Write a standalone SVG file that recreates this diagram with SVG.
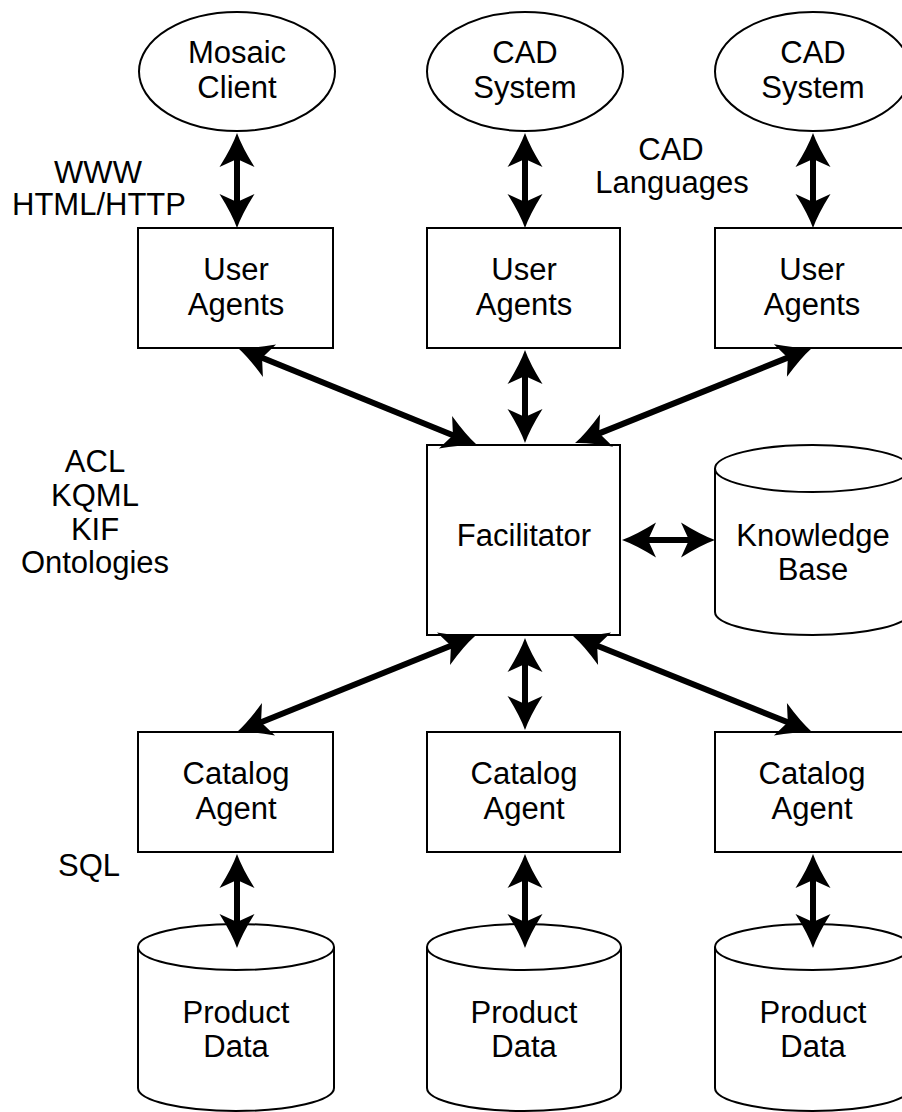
<svg xmlns="http://www.w3.org/2000/svg" width="902" height="1112" viewBox="0 0 902 1112">
<style>
.shape{fill:#fff;stroke:#000;stroke-width:2}
.line{fill:none;stroke:#000;stroke-width:2}
.conn{fill:none;stroke:#000;stroke-width:6;marker-start:url(#ah);marker-end:url(#ah)}
text{font-family:"Liberation Sans",Arial,sans-serif;font-size:31px;fill:#000;text-anchor:middle}
</style>
<defs>
<marker id="ah" markerUnits="userSpaceOnUse" viewBox="0 -20 40 40" refX="14" refY="0" markerWidth="40" markerHeight="40" orient="auto-start-reverse" overflow="visible">
<path d="M34,0 Q20,-5 0,-17.5 L8,0 L0,17.5 Q20,5 34,0 Z" fill="#000"/>
</marker>
</defs>
<rect width="902" height="1112" fill="#fff"/>

<g id="mosaic-client">
<ellipse class="shape" cx="237" cy="71.5" rx="98" ry="59.5"/>
<text x="237" y="63">Mosaic</text>
<text x="237" y="98">Client</text>
</g>
<g id="cad-system-1">
<ellipse class="shape" cx="525" cy="71.5" rx="98" ry="59.5"/>
<text x="525" y="63">CAD</text>
<text x="525" y="98">System</text>
</g>
<g id="cad-system-2">
<ellipse class="shape" cx="813" cy="71.5" rx="98" ry="59.5"/>
<text x="813" y="63">CAD</text>
<text x="813" y="98">System</text>
</g>

<g id="user-agents-1">
<rect class="shape" x="138" y="228" width="195" height="120"/>
<text x="236" y="280">User</text>
<text x="236" y="315">Agents</text>
</g>
<g id="user-agents-2">
<rect class="shape" x="427" y="228" width="193" height="120"/>
<text x="524" y="280">User</text>
<text x="524" y="315">Agents</text>
</g>
<g id="user-agents-3">
<rect class="shape" x="715" y="228" width="194" height="120"/>
<text x="812" y="280">User</text>
<text x="812" y="315">Agents</text>
</g>

<g id="facilitator">
<rect class="shape" x="427" y="445" width="193" height="190"/>
<text x="524" y="546">Facilitator</text>
</g>

<g id="knowledge-base">
<path class="shape" d="M715,468.5 L715,612 A97.5,23 0 0 0 910,612 L910,468.5"/>
<ellipse class="shape" cx="812.5" cy="468.5" rx="97.5" ry="23.5"/>
<text x="813" y="546">Knowledge</text>
<text x="813" y="580">Base</text>
</g>

<g id="catalog-agent-1">
<rect class="shape" x="138" y="732" width="195" height="120"/>
<text x="236" y="784">Catalog</text>
<text x="236" y="819">Agent</text>
</g>
<g id="catalog-agent-2">
<rect class="shape" x="427" y="732" width="193" height="120"/>
<text x="524" y="784">Catalog</text>
<text x="524" y="819">Agent</text>
</g>
<g id="catalog-agent-3">
<rect class="shape" x="715" y="732" width="194" height="120"/>
<text x="812" y="784">Catalog</text>
<text x="812" y="819">Agent</text>
</g>

<g id="product-data-1">
<path class="shape" d="M138,947 L138,1088 A98,23 0 0 0 334,1088 L334,947"/>
<ellipse class="shape" cx="236" cy="947" rx="98" ry="23"/>
<text x="236" y="1023">Product</text>
<text x="236" y="1057">Data</text>
</g>
<g id="product-data-2">
<path class="shape" d="M427,947 L427,1088 A97,23 0 0 0 621,1088 L621,947"/>
<ellipse class="shape" cx="524" cy="947" rx="97" ry="23"/>
<text x="524" y="1023">Product</text>
<text x="524" y="1057">Data</text>
</g>
<g id="product-data-3">
<path class="shape" d="M715,947 L715,1088 A97.5,23 0 0 0 910,1088 L910,947"/>
<ellipse class="shape" cx="812.5" cy="947" rx="97.5" ry="23"/>
<text x="813" y="1023">Product</text>
<text x="813" y="1057">Data</text>
</g>

<g id="labels">
<text x="98" y="183">WWW</text>
<text x="99" y="215">HTML/HTTP</text>
<text x="671" y="160">CAD</text>
<text x="672" y="193">Languages</text>
<text x="95" y="472">ACL</text>
<text x="95" y="506">KQML</text>
<text x="95" y="540">KIF</text>
<text x="95" y="573">Ontologies</text>
<text x="89" y="876">SQL</text>
</g>

<g id="connectors">
<line class="conn" x1="237" y1="153" x2="237" y2="208"/>
<line class="conn" x1="525" y1="153" x2="525" y2="208"/>
<line class="conn" x1="813" y1="153" x2="813" y2="208"/>
<line class="conn" x1="525" y1="370" x2="525" y2="423"/>
<line class="conn" x1="256.5" y1="355.5" x2="458.5" y2="437.5"/>
<line class="conn" x1="793.4" y1="355.4" x2="593.6" y2="435.6"/>
<line class="conn" x1="642" y1="540" x2="695" y2="540"/>
<line class="conn" x1="525" y1="658" x2="525" y2="710"/>
<line class="conn" x1="456.5" y1="643.5" x2="255.5" y2="724.5"/>
<line class="conn" x1="591.6" y1="643.5" x2="793.4" y2="724.5"/>
<line class="conn" x1="237" y1="874" x2="237" y2="928"/>
<line class="conn" x1="525" y1="874" x2="525" y2="928"/>
<line class="conn" x1="813" y1="874" x2="813" y2="928"/>
</g>
</svg>
